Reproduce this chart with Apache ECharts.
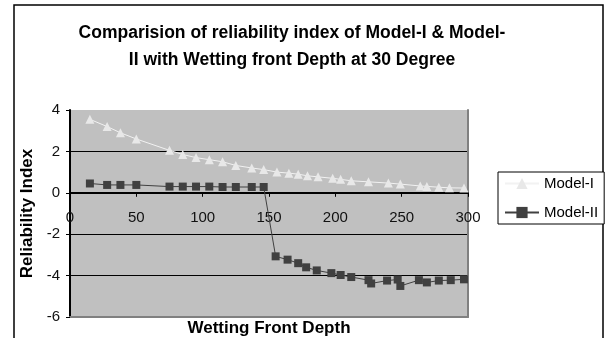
<!DOCTYPE html>
<html>
<head>
<meta charset="utf-8">
<script src="https://cdn.jsdelivr.net/npm/echarts@6/dist/echarts.min.js"></script>
<style>html,body{margin:0;padding:0;background:#fff;}#c{width:608px;height:338px;}</style>
</head>
<body>
<div id="c"></div>
<script>
// Wetting front depth (x) and reliability index values
const depthModel1 = [15, 28, 38, 50, 75, 85, 95, 105, 115, 125, 137, 146, 156, 165, 172, 179, 187, 198, 204, 212, 225, 240, 249, 264, 269, 278, 286, 297];
const model1 = [3.55, 3.2, 2.9, 2.6, 2.05, 1.85, 1.7, 1.6, 1.5, 1.32, 1.2, 1.12, 1.0, 0.95, 0.9, 0.82, 0.77, 0.7, 0.65, 0.58, 0.53, 0.47, 0.42, 0.33, 0.31, 0.27, 0.24, 0.23];
const depthModel2 = [15, 28, 38, 50, 75, 85, 95, 105, 115, 125, 137, 146, 155, 164, 172, 178, 186, 197, 204, 212, 225, 227, 239, 247, 249, 263, 269, 278, 287, 297];
const model2 = [0.45, 0.38, 0.38, 0.38, 0.3, 0.3, 0.3, 0.3, 0.28, 0.28, 0.28, 0.28, -3.07, -3.23, -3.4, -3.6, -3.75, -3.88, -3.97, -4.07, -4.22, -4.38, -4.24, -4.19, -4.5, -4.22, -4.33, -4.24, -4.22, -4.18];
const xTicks = {min: 0, max: 300, interval: 50};
const yTicks = {min: -6, max: 4, interval: 2};
const titleText = 'Comparision of reliability index of Model-I & Model-\nII with Wetting front Depth at 30 Degree';
const seriesNames = ['Model-I', 'Model-II'];

const font = 'Liberation Sans, Arial, sans-serif';
const G = {left: 70, top: 110, width: 398, height: 207};
// the upper band of the plot ends where y = 0, so its bottom axis sits on the zero line
const zeroBandHeight = G.height * (yTicks.max - 0) / (yTicks.max - yTicks.min);

const chart = echarts.init(document.getElementById('c'), null, {renderer: 'canvas'});
chart.setOption({
  animation: false,
  backgroundColor: '#fff',
  graphic: [{
    type: 'polyline', silent: true,
    shape: {points: [[14, 340], [14, 5], [603, 5], [603, 340]]},
    style: {stroke: '#000', lineWidth: 1.5, fill: null}
  }, {
    type: 'text', silent: true, x: 292, y: 46.5,
    style: {text: titleText, fontFamily: font, fontSize: 17.5, fontWeight: 'bold', fill: '#000',
            lineHeight: 27, align: 'center', verticalAlign: 'middle'}
  }],
  legend: {
    orient: 'vertical',
    left: 498, top: 172,
    padding: [4, 6, 4, 6],
    itemGap: 14,
    itemWidth: 34, itemHeight: 14,
    borderColor: '#000', borderWidth: 1,
    backgroundColor: '#fff',
    textStyle: {fontFamily: font, fontSize: 15, color: '#000'},
    data: seriesNames
  },
  grid: [
    {left: G.left, top: G.top, width: G.width, height: G.height, show: true, borderWidth: 0,
     backgroundColor: '#c0c0c0', containLabel: false, outerBoundsMode: 'none'},
    {left: G.left, top: G.top, width: G.width, height: zeroBandHeight, show: false,
     containLabel: false, outerBoundsMode: 'none'}
  ],
  xAxis: [{
    gridIndex: 0, type: 'value', position: 'bottom', min: xTicks.min, max: xTicks.max,
    axisLine: {show: true, onZero: false, lineStyle: {color: '#808080', width: 2}},
    axisTick: {show: false}, axisLabel: {show: false}, splitLine: {show: false},
    name: 'Wetting Front Depth', nameLocation: 'middle', nameGap: 3,
    nameTextStyle: {fontFamily: font, fontSize: 17, fontWeight: 'bold', color: '#000', verticalAlign: 'top'}
  }, {
    gridIndex: 1, type: 'value', position: 'bottom', min: xTicks.min, max: xTicks.max, interval: xTicks.interval,
    axisLine: {show: true, onZero: false, lineStyle: {color: '#000', width: 2}},
    axisTick: {show: true, length: 4, lineStyle: {color: '#000', width: 1}},
    axisLabel: {margin: 18, fontFamily: font, fontSize: 15, color: '#111'},
    splitLine: {show: false}
  }],
  yAxis: [{
    gridIndex: 0, type: 'value', min: yTicks.min, max: yTicks.max, interval: yTicks.interval,
    axisLine: {show: true, onZero: false, lineStyle: {color: '#000', width: 2}},
    axisTick: {show: true, length: 4, lineStyle: {color: '#000'}},
    axisLabel: {margin: 10, fontFamily: font, fontSize: 15, color: '#111'},
    splitLine: {show: true, lineStyle: {color: ['#808080', '#000', '#000', '#000', '#000', '#c0c0c0'], width: 1}},
    name: 'Reliability Index', nameLocation: 'middle', nameGap: 28,
    nameTextStyle: {fontFamily: font, fontSize: 17, fontWeight: 'bold', color: '#000'}
  }, {
    gridIndex: 0, type: 'value', position: 'right', min: yTicks.min, max: yTicks.max, interval: yTicks.interval,
    axisLine: {show: true, onZero: false, lineStyle: {color: '#808080', width: 2}},
    axisTick: {show: false}, axisLabel: {show: false}, splitLine: {show: false}
  }, {
    gridIndex: 1, type: 'value', min: 0, max: yTicks.max, show: false
  }],
  series: [{
    name: seriesNames[0], type: 'line', xAxisIndex: 0, yAxisIndex: 0,
    data: depthModel1.map((d, i) => [d, model1[i]]),
    symbol: 'triangle', symbolSize: 9, showAllSymbol: true,
    lineStyle: {color: '#f2f2f2', width: 1},
    itemStyle: {color: '#e8e8e8'}
  }, {
    name: seriesNames[1], type: 'line', xAxisIndex: 0, yAxisIndex: 0,
    data: depthModel2.map((d, i) => [d, model2[i]]),
    symbol: 'rect', symbolSize: 8, showAllSymbol: true,
    lineStyle: {color: '#404040', width: 1},
    itemStyle: {color: '#404040'}
  }]
});
</script>
</body>
</html>
